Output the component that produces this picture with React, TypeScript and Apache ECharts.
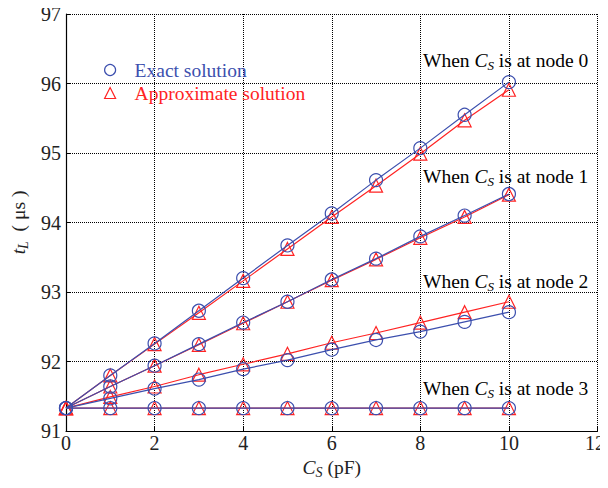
import React, { useEffect, useRef } from "react";
import * as echarts from "echarts";

const capacitance = [0, 1, 2, 3, 4, 5, 6, 7, 8, 9, 10];

const exactNode0 = [91.33, 91.80, 92.26, 92.73, 93.20, 93.67, 94.13, 94.61, 95.07, 95.55, 96.02];
const approxNode0 = [91.33, 91.80, 92.25, 92.70, 93.16, 93.62, 94.08, 94.53, 94.99, 95.47, 95.91];
const exactNode1 = [91.33, 91.64, 91.94, 92.25, 92.56, 92.86, 93.18, 93.48, 93.80, 94.10, 94.41];
const approxNode1 = [91.33, 91.64, 91.94, 92.24, 92.55, 92.86, 93.17, 93.47, 93.78, 94.08, 94.40];
const exactNode2 = [91.33, 91.47, 91.61, 91.74, 91.89, 92.02, 92.17, 92.31, 92.43, 92.57, 92.71];
const approxNode2 = [91.33, 91.49, 91.64, 91.81, 91.96, 92.11, 92.27, 92.41, 92.56, 92.71, 92.86];
const exactNode3 = [91.33, 91.33, 91.33, 91.33, 91.33, 91.33, 91.33, 91.33, 91.33, 91.33, 91.33];
const approxNode3 = [91.33, 91.33, 91.33, 91.33, 91.33, 91.33, 91.33, 91.33, 91.33, 91.33, 91.33];

const nodeLabels = ["0", "1", "2", "3"];

const EXACT = "Exact solution";
const APPROX = "Approximate solution";
const BLUE = "#3c4fae";
const RED = "#ff2323";
const FONT = "Liberation Serif";
const FS = 19.5;
const X_MAX = 12;

const pairs = (ys: number[]) => capacitance.map((x, i) => [x, ys[i]]);

const subRich = (size: number, subSize: number) => ({
  i: { fontSize: size, fontFamily: FONT, fontStyle: "italic", color: "#222", lineHeight: 23, verticalAlign: "middle" },
  s: { fontSize: subSize, fontFamily: FONT, fontStyle: "italic", color: "#222", lineHeight: 13, verticalAlign: "bottom" },
  n: { fontSize: size, fontFamily: FONT, color: "#222", lineHeight: 23, verticalAlign: "middle" },
});

export default function App() {
  const ref = useRef<HTMLDivElement>(null);

  useEffect(() => {
    if (!ref.current) return;
    const chart = echarts.init(ref.current, null, { renderer: "svg" });

    const approxSets = [approxNode0, approxNode1, approxNode2, approxNode3];
    const exactSets = [exactNode0, exactNode1, exactNode2, exactNode3];

    const approxSeries = approxSets.map((ys) => ({
      name: APPROX,
      type: "line",
      data: pairs(ys),
      symbol: "triangle",
      symbolSize: 13,
      showAllSymbol: true,
      lineStyle: { color: RED, width: 1.2 },
      itemStyle: { color: "rgba(0,0,0,0)", borderColor: RED, borderWidth: 1.2 },
      z: 2,
    }));
    const exactSeries = exactSets.map((ys) => ({
      name: EXACT,
      type: "line",
      data: pairs(ys),
      symbol: "circle",
      symbolSize: 13,
      showAllSymbol: true,
      lineStyle: { color: BLUE, width: 1.2 },
      itemStyle: { color: "rgba(0,0,0,0)", borderColor: BLUE, borderWidth: 1.2 },
      z: 3,
    }));

    const annotationY = [62, 178, 283, 390];
    const annotations = nodeLabels.map((n, i) => ({
      type: "text",
      left: 423,
      top: annotationY[i] - 11.5,
      style: {
        text: `{n|When }{i|C}{s|S}{n| is at node ${n}}`,
        rich: subRich(FS, 13),
      },
    }));

    const legendText = (color: string) => ({
      rich: {
        t: { color, fontSize: FS, fontFamily: FONT, padding: [0, 0, 0, 14] },
      },
    });

    chart.setOption({
      animation: false,
      backgroundColor: "#fff",
      textStyle: { fontFamily: FONT },
      grid: { left: 66, right: 8, top: 14, bottom: 57 },
      legend: {
        left: 99,
        top: 55,
        orient: "vertical",
        itemWidth: 11,
        itemHeight: 11,
        itemGap: 3,
        selectedMode: false,
        formatter: (name: string) => `{t|${name}}`,
        data: [
          {
            name: EXACT,
            icon: "circle",
            itemStyle: { color: "rgba(0,0,0,0)", borderColor: BLUE, borderWidth: 1.2 },
            textStyle: legendText(BLUE),
          },
          {
            name: APPROX,
            icon: "triangle",
            itemStyle: { color: "rgba(0,0,0,0)", borderColor: RED, borderWidth: 1.2 },
            textStyle: legendText(RED),
          },
        ],
      },
      xAxis: {
        type: "value",
        min: 0,
        max: X_MAX,
        interval: 2,
        name: "{i|C}{s|S}{n| (pF)}",
        nameLocation: "middle",
        nameGap: 21,
        nameTextStyle: { rich: subRich(FS, 14) },
        axisLine: { show: true, lineStyle: { color: "#000", width: 1.2 } },
        axisTick: { show: true, inside: true, length: 5, lineStyle: { color: "#000" } },
        axisLabel: {
          color: "#222",
          margin: 2,
          formatter: (v: number) => (v === X_MAX ? `{m|${v}}` : `{v|${v}}`),
          rich: {
            v: { fontSize: 20, fontFamily: FONT, color: "#222" },
            m: { fontSize: 20, fontFamily: FONT, color: "#222", padding: [0, 5, 0, 0] },
          },
        },
        splitLine: { show: true, lineStyle: { color: "#000", type: [1, 1], width: 1 } },
      },
      yAxis: {
        type: "value",
        min: 91,
        max: 97,
        interval: 1,
        name: "{i|t}{s|L}{n|  ( μs )}",
        nameLocation: "middle",
        nameRotate: 90,
        nameGap: 36,
        nameTextStyle: { rich: subRich(FS, 14) },
        axisLine: { show: true, lineStyle: { color: "#000", width: 1.2 } },
        axisTick: { show: true, inside: true, length: 5, lineStyle: { color: "#000" } },
        axisLabel: {
          color: "#222",
          margin: 5,
          formatter: (v: number) => `{v|${v}}`,
          rich: { v: { fontSize: 20, fontFamily: FONT, color: "#222" } },
        },
        splitLine: { show: true, lineStyle: { color: "#000", type: [1, 1], width: 1 } },
      },
      graphic: annotations,
      series: [...approxSeries, ...exactSeries],
    });

    return () => chart.dispose();
  }, []);

  return <div ref={ref} style={{ width: 608, height: 488, margin: -8 }} />;
}
